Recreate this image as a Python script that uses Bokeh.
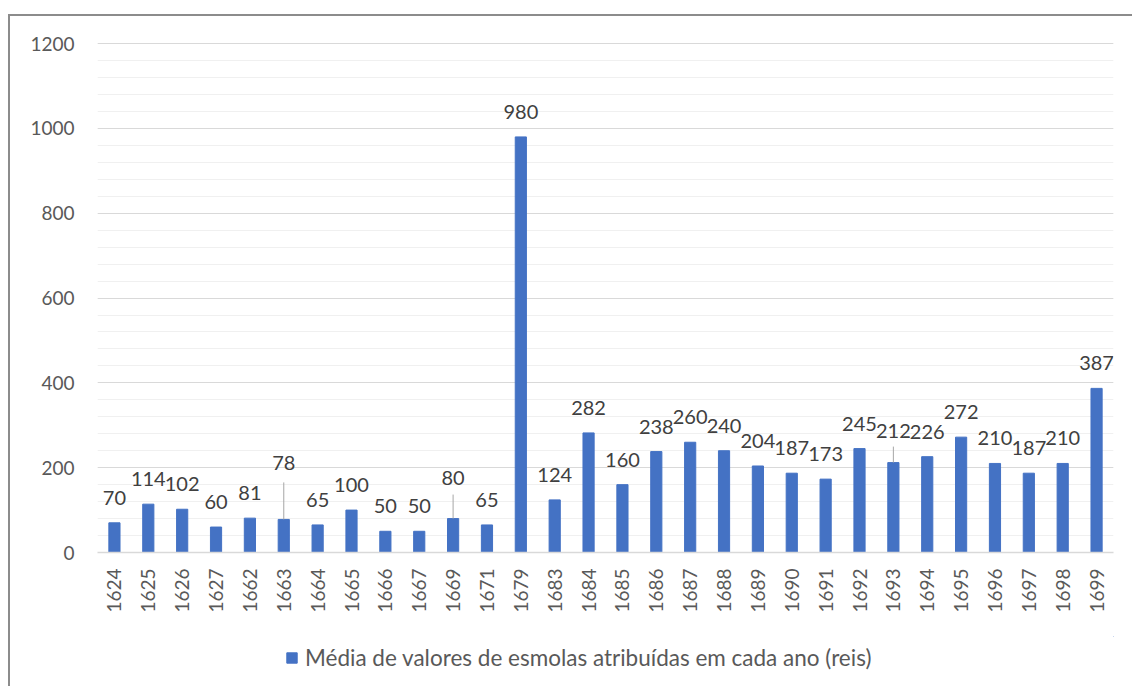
from math import pi

from bokeh.core.properties import value
from bokeh.embed import file_html
from bokeh.layouts import column
from bokeh.models import (ColumnDataSource, FactorRange, Legend, LegendItem,
                          Range1d, SingleIntervalTicker)
from bokeh.plotting import figure
from bokeh.resources import INLINE

# Average alms value per year (reis)
years = ["1624", "1625", "1626", "1627", "1662", "1663", "1664", "1665", "1666",
         "1667", "1669", "1671", "1679", "1683", "1684", "1685", "1686", "1687",
         "1688", "1689", "1690", "1691", "1692", "1693", "1694", "1695", "1696",
         "1697", "1698", "1699"]
averages = [70, 114, 102, 60, 81, 78, 65, 100, 50, 50, 80, 65, 980, 124, 282, 160,
            238, 260, 240, 204, 187, 173, 245, 212, 226, 272, 210, 187, 210, 387]

series_name = "Média de valores de esmolas atribuídas em cada ano (reis)"

# Labels that had to be lifted clear of their neighbours, with leader lines (px)
lifted = {"1663": (56, 37), "1669": (41, 24), "1693": (32, 16)}

FONT = "Lato"
BLUE = "#4472C4"
W = 1122
LEFT, RIGHT = 87, W - 1103

label_off = [-lifted[y][0] if y in lifted else -25 for y in years]
src = ColumnDataSource(dict(year=years, avg=averages,
                            txt=[str(v) for v in averages], yoff=label_off))
lead = ColumnDataSource(dict(
    year=[y for y in years if y in lifted],
    avg=[a for y, a in zip(years, averages) if y in lifted],
    length=[lifted[y][1] for y in years if y in lifted],
))

p = figure(width=W, height=620, x_range=FactorRange(*years, range_padding=0),
           y_range=Range1d(0, 1205), output_backend="svg", toolbar_location=None,
           min_border_left=LEFT, min_border_right=RIGHT, min_border_top=25,
           min_border_bottom=84)
p.outline_line_color = None
p.background_fill_color = "white"
p.border_fill_color = "white"

bars = p.vbar(x="year", top="avg", width=0.33, source=src, color=BLUE)

p.ray(x="year", y="avg", length="length", length_units="screen", angle=pi / 2,
      source=lead, line_color="#A6A6A6", line_width=1)

p.text(x="year", y="avg", text="txt", y_offset="yoff", source=src,
       text_align="center", text_baseline="middle", text_font=value(FONT),
       text_font_size="20px", text_color="#404040")

# y axis and gridlines
p.yaxis.ticker = SingleIntervalTicker(interval=200, num_minor_ticks=5)
p.yaxis.axis_line_color = None
p.yaxis.major_tick_line_color = None
p.yaxis.minor_tick_line_color = None
p.yaxis.major_label_standoff = 17
p.yaxis.major_label_text_font = FONT
p.yaxis.major_label_text_font_size = "19px"
p.yaxis.major_label_text_color = "#595959"
p.ygrid.grid_line_color = "#D9D9D9"
p.ygrid.minor_grid_line_color = "#F0F0F0"
p.xgrid.grid_line_color = None

# x axis
p.xaxis.axis_line_color = "#D9D9D9"
p.xaxis.axis_line_width = 1.5
p.xaxis.major_tick_line_color = None
p.xaxis.minor_tick_line_color = None
p.xaxis.major_label_orientation = pi / 2
p.xaxis.major_label_standoff = 10
p.xaxis.major_label_text_font = FONT
p.xaxis.major_label_text_font_size = "19px"
p.xaxis.major_label_text_color = "#595959"

# legend strip underneath the chart, frame aligned with the chart's frame
leg = figure(width=W, height=50, x_range=Range1d(0, 1), y_range=Range1d(0, 1),
             output_backend="svg", toolbar_location=None,
             min_border_left=LEFT, min_border_right=RIGHT,
             min_border_top=0, min_border_bottom=0,
             x_axis_location=None, y_axis_location=None)
leg.grid.visible = False
leg.outline_line_color = None
# key swatch: a bar parked entirely outside the visible ranges
key = leg.vbar(x=[5], top=[6], bottom=[5], width=1, color=BLUE)
legend = Legend(items=[LegendItem(label=series_name, renderers=[key])],
                location=(188, 15), orientation="horizontal",
                glyph_width=13, glyph_height=13, label_standoff=7,
                padding=0, margin=0, spacing=0,
                border_line_color=None, background_fill_alpha=0,
                label_text_font=FONT, label_text_font_size="22.5px",
                label_text_color="#595959")
leg.add_layout(legend, "center")

# chart border, open to the right and bottom
chart = column(p, leg, spacing=0, margin=(14, 0, 0, 8),
               styles={"border-left": "2px solid #8C8C8C",
                       "border-top": "2px solid #8C8C8C"})

open("out.html", "w").write(file_html(chart, INLINE))
